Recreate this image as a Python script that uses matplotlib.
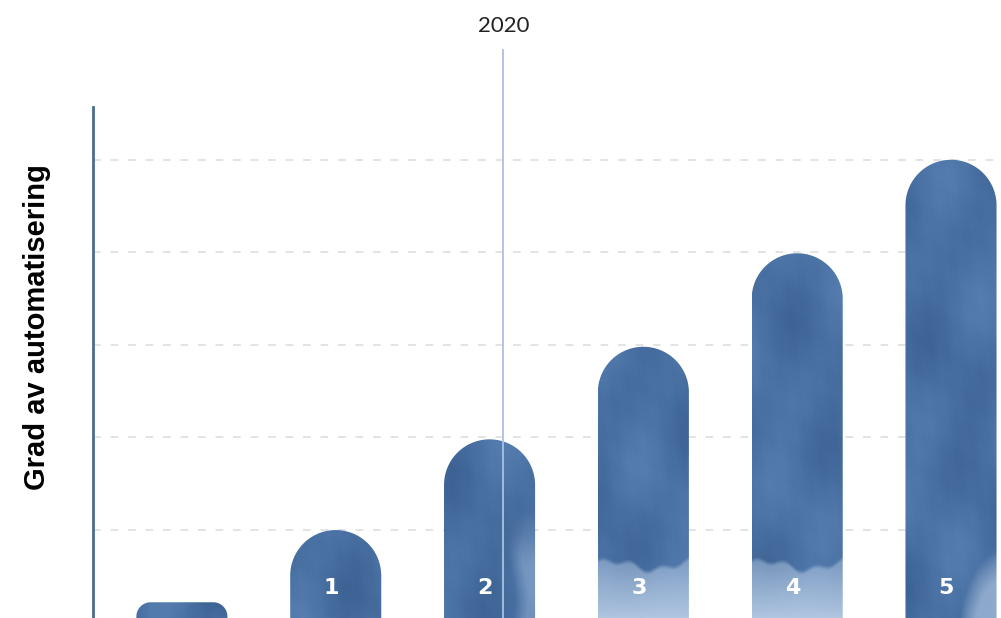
import numpy as np
import matplotlib
matplotlib.use("Agg")
import matplotlib.pyplot as plt
from matplotlib.path import Path
from matplotlib.patches import PathPatch
from matplotlib.colors import to_rgb

# ---------- Data ----------
levels = [0, 1, 2, 3, 4, 5]
bar_values = [0.22, 1.0, 1.98, 2.98, 3.99, 5.0]
bar_labels = ["", "1", "2", "3", "4", "5"]
marker_x = 2.09
marker_label = "2020"
ylabel = "Grad av automatisering"

# ---------- Style ----------
DARK = np.array(to_rgb("#3d6394"))
MID = np.array(to_rgb("#5a82b5"))
LIGHT = np.array(to_rgb("#bcd0e8"))
wash = ["none", "none", "side", "bottom", "bottom", "corner"]

W, H = 1001, 618
fig = plt.figure(figsize=(W / 100, H / 100), dpi=100)
ax = fig.add_axes([93 / W, 0, (W - 93) / W, (618 - 107) / H])

px_x = 153.83  # pixels per x unit
px_y = 92.5    # pixels per y unit
half_w = 0.296


def bar_path(cx, top):
    h_px = top * px_y
    r_px = min(half_w * px_x, 0.7 * h_px)
    rx, ry = r_px / px_x, r_px / px_y
    t = np.linspace(np.pi, np.pi / 2, 30)
    left_arc = np.c_[cx - half_w + rx + rx * np.cos(t), top - ry + ry * np.sin(t)]
    t = np.linspace(np.pi / 2, 0, 30)
    right_arc = np.c_[cx + half_w - rx + rx * np.cos(t), top - ry + ry * np.sin(t)]
    verts = np.vstack([[cx - half_w, -0.5], left_arc, right_arc,
                       [cx + half_w, -0.5], [cx - half_w, -0.5]])
    return Path(verts, closed=True)


def bar_texture(kind, top, seed):
    ny, nx = 400, 90
    yy, xx = np.mgrid[-0.5:top:ny * 1j, 0:1:nx * 1j]
    m = (0.30 * np.sin(xx * 4.3 + yy * 1.7 + seed)
         + 0.25 * np.sin(xx * 7.1 - yy * 2.9 + 1.3 * seed)
         + 0.18 * np.sin(yy * 4.7 + xx * 2.2 + 2 * seed)
         + 0.08 * np.sin(xx * 23 + yy * 11.0) * np.sin(yy * 7 - xx * 13)
         + 0.04 * np.sin(xx * 61 - yy * 29.0) * np.sin(xx * 37 + yy * 41))
    m = (m - m.min()) / (m.max() - m.min())
    img = DARK + (MID - DARK) * m[..., None] * 0.85
    w = np.zeros_like(xx)
    if kind == "bottom":
        edge = 0.64 + 0.05 * np.sin(xx * 7 + 0.5) + 0.03 * np.sin(xx * 19 + 1)
        w = np.clip((edge - yy) / 0.05, 0, 1) * (0.45 + 0.55 * np.clip((0.65 - yy) / 0.75, 0, 1))
    elif kind == "side":
        edge = 0.74 + 0.04 * np.sin(yy * 6)
        w = np.clip((xx - edge) / 0.15, 0, 1) * np.clip((1.2 - yy) / 0.6, 0, 1) * 0.35
    elif kind == "corner":
        d = (xx - 1.1) ** 2 / 0.3 + (yy + 0.2) ** 2 / 1.1
        w = np.clip((0.9 - d) / 0.5, 0, 1) * 0.6
    img = img * (1 - w[..., None]) + LIGHT * w[..., None]
    return np.clip(img, 0, 1)


# gridlines
for g in [1, 2, 3, 4, 5]:
    ax.axhline(g, color="#e3e3e3", lw=1.4, ls=(0, (4, 5)), zorder=0)

for i, (lv, val, lab) in enumerate(zip(levels, bar_values, bar_labels)):
    patch = PathPatch(bar_path(lv, val), facecolor="none", edgecolor="none")
    ax.add_patch(patch)
    im = ax.imshow(bar_texture(wash[i], val, i * 0.9), origin="lower",
                   extent=[lv - half_w, lv + half_w, -0.5, val],
                   aspect="auto", interpolation="bilinear", zorder=2)
    im.set_clip_path(patch)
    if lab:
        ax.text(lv - 0.03, 0.37, lab, color="white", fontsize=16, fontweight="bold",
                family="DejaVu Sans", ha="center", va="center", zorder=4)

# marker line for 2020
ax.plot([marker_x, marker_x], [0, 6.19], color="#a9c2e0", lw=1.3,
        clip_on=False, zorder=5)
ax.text(marker_x, 6.44, marker_label, ha="center", va="center",
        fontsize=16, color="#222222", family="Lato")

ax.set_xlim(-0.578, 5.325)
ax.set_ylim(0.05, 5.57)
for s in ["top", "right", "bottom"]:
    ax.spines[s].set_visible(False)
ax.spines["left"].set_color("#4b6b91")
ax.spines["left"].set_linewidth(2)
ax.set_xticks([])
ax.set_yticks([])

fig.text(37 / W, 1 - 327.5 / H, ylabel, rotation=90, ha="center", va="center",
         fontsize=21, fontweight="bold", family="Liberation Sans", color="black")

fig.savefig("out.png", dpi=100)
